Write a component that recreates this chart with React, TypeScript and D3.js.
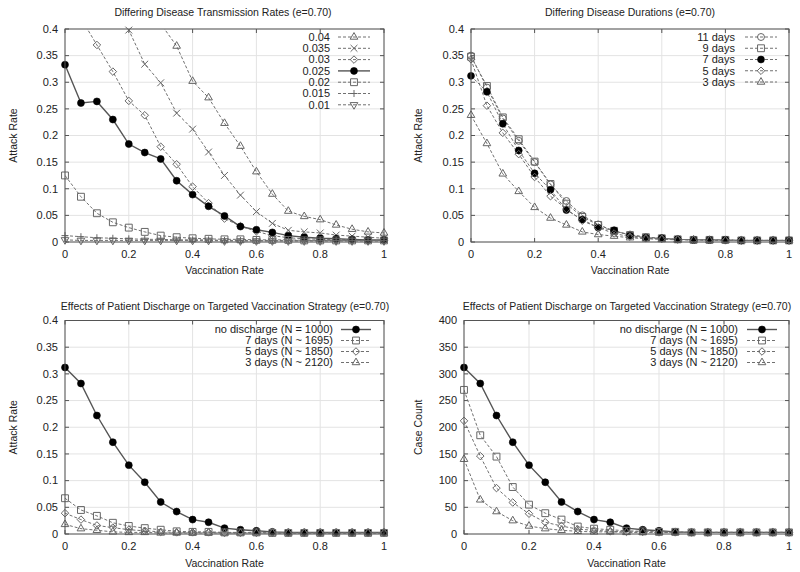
import React from "react";
import * as d3 from "d3";

const vaccinationRates = [0, 0.05, 0.1, 0.15, 0.2, 0.25, 0.3, 0.35, 0.4, 0.45, 0.5, 0.55, 0.6, 0.65, 0.7, 0.75, 0.8, 0.85, 0.9, 0.95, 1];
const xTicks = [0, 0.2, 0.4, 0.6, 0.8, 1];
const rateTicks = [0, 0.05, 0.1, 0.15, 0.2, 0.25, 0.3, 0.35, 0.4];
const countTicks = [0, 50, 100, 150, 200, 250, 300, 350, 400];

// Panel 1: transmission rates
const trans004 = [0.72, 0.68, 0.63, 0.58, 0.53, 0.47, 0.41, 0.368, 0.302, 0.271, 0.223, 0.18, 0.132, 0.09, 0.058, 0.048, 0.042, 0.032, 0.024, 0.019, 0.017];
const trans0035 = [0.64, 0.6, 0.56, 0.51, 0.398, 0.334, 0.299, 0.242, 0.212, 0.169, 0.125, 0.088, 0.057, 0.035, 0.022, 0.019, 0.017, 0.013, 0.011, 0.009, 0.007];
const trans003 = [0.5, 0.42, 0.37, 0.32, 0.265, 0.238, 0.179, 0.146, 0.104, 0.073, 0.044, 0.03, 0.02, 0.012, 0.008, 0.006, 0.005, 0.004, 0.004, 0.003, 0.003];
const trans0025 = [0.333, 0.261, 0.264, 0.23, 0.184, 0.168, 0.156, 0.115, 0.089, 0.067, 0.049, 0.029, 0.023, 0.018, 0.012, 0.009, 0.007, 0.006, 0.005, 0.004, 0.004];
const trans002 = [0.125, 0.085, 0.054, 0.037, 0.027, 0.019, 0.012, 0.009, 0.007, 0.006, 0.005, 0.005, 0.004, 0.004, 0.004, 0.003, 0.003, 0.003, 0.003, 0.003, 0.003];
const trans0015 = [0.012, 0.01, 0.008, 0.007, 0.006, 0.005, 0.005, 0.004, 0.004, 0.004, 0.003, 0.003, 0.003, 0.003, 0.003, 0.003, 0.003, 0.003, 0.003, 0.003, 0.003];
const trans001 = [0.004, 0.003, 0.003, 0.003, 0.003, 0.003, 0.003, 0.003, 0.003, 0.003, 0.002, 0.002, 0.002, 0.002, 0.002, 0.002, 0.002, 0.002, 0.002, 0.002, 0.002];

// Panel 2: durations
const dur11 = [0.35, 0.29, 0.232, 0.19, 0.15, 0.108, 0.077, 0.05, 0.033, 0.02, 0.014, 0.009, 0.007, 0.005, 0.004, 0.004, 0.004, 0.003, 0.003, 0.003, 0.003];
const dur9 = [0.348, 0.293, 0.234, 0.193, 0.151, 0.109, 0.072, 0.047, 0.032, 0.021, 0.013, 0.009, 0.007, 0.005, 0.004, 0.004, 0.004, 0.003, 0.003, 0.003, 0.003];
const dur7 = [0.312, 0.282, 0.222, 0.172, 0.129, 0.098, 0.06, 0.042, 0.027, 0.022, 0.012, 0.008, 0.007, 0.005, 0.004, 0.004, 0.004, 0.003, 0.003, 0.003, 0.003];
const dur5 = [0.343, 0.256, 0.205, 0.165, 0.122, 0.086, 0.062, 0.04, 0.027, 0.016, 0.01, 0.007, 0.006, 0.005, 0.004, 0.004, 0.003, 0.003, 0.003, 0.003, 0.003];
const dur3 = [0.238, 0.185, 0.128, 0.095, 0.065, 0.045, 0.032, 0.019, 0.014, 0.011, 0.008, 0.006, 0.005, 0.004, 0.004, 0.003, 0.003, 0.003, 0.003, 0.003, 0.003];

// Panel 3: discharge attack rates
const noDischargeRate = [0.312, 0.282, 0.222, 0.172, 0.129, 0.097, 0.06, 0.042, 0.027, 0.022, 0.011, 0.008, 0.006, 0.004, 0.003, 0.003, 0.003, 0.003, 0.003, 0.003, 0.003];
const discharge7Rate = [0.067, 0.045, 0.034, 0.021, 0.015, 0.011, 0.008, 0.005, 0.004, 0.004, 0.003, 0.003, 0.003, 0.002, 0.002, 0.002, 0.002, 0.002, 0.002, 0.002, 0.002];
const discharge5Rate = [0.039, 0.027, 0.016, 0.012, 0.008, 0.006, 0.004, 0.003, 0.003, 0.003, 0.002, 0.002, 0.002, 0.002, 0.002, 0.002, 0.002, 0.002, 0.002, 0.002, 0.002];
const discharge3Rate = [0.018, 0.01, 0.007, 0.004, 0.003, 0.003, 0.002, 0.002, 0.002, 0.002, 0.002, 0.002, 0.002, 0.002, 0.002, 0.002, 0.002, 0.002, 0.002, 0.002, 0.002];

// Panel 4: discharge case counts
const noDischargeCount = [312, 282, 222, 172, 129, 97, 60, 42, 27, 22, 11, 8, 6, 4, 3, 3, 3, 3, 3, 3, 3];
const discharge7Count = [270, 185, 145, 88, 55, 39, 27, 14, 10, 8, 6, 5, 4, 4, 3, 3, 3, 3, 3, 3, 3];
const discharge5Count = [212, 146, 86, 59, 38, 22, 15, 9, 7, 5, 4, 4, 3, 3, 3, 3, 3, 3, 3, 3, 3];
const discharge3Count = [140, 64, 42, 25, 15, 10, 7, 5, 4, 4, 3, 3, 3, 3, 3, 3, 3, 3, 3, 3, 3];

const transLabels = ["0.04", "0.035", "0.03", "0.025", "0.02", "0.015", "0.01"];
const durLabels = ["11 days", "9 days", "7 days", "5 days", "3 days"];
const dischargeLabels = ["no discharge (N = 1000)", "7 days (N ~ 1695)", "5 days (N ~ 1850)", "3 days (N ~ 2120)"];

type Marker = "triangle" | "times" | "diamond" | "dot" | "square" | "plus" | "invtriangle" | "circle";
type Series = { label: string; values: number[]; marker: Marker; solid?: boolean };

const FONT = "'Liberation Sans', Arial, sans-serif";
const TEXT = "#222";

function markerPath(m: Marker): string {
  const s = d3.symbol();
  switch (m) {
    case "triangle":
    case "invtriangle":
      return s.type(d3.symbolTriangle2).size(42)()!;
    case "times":
      return s.type(d3.symbolTimes).size(32)()!;
    case "diamond":
      return s.type(d3.symbolDiamond2).size(36)()!;
    case "square":
      return s.type(d3.symbolSquare2).size(60)()!;
    case "plus":
      return s.type(d3.symbolPlus).size(18)()!;
    case "circle":
    case "dot":
      return s.type(d3.symbolCircle).size(38)()!;
  }
}

function MarkerShape({ m, x, y }: { m: Marker; x: number; y: number }) {
  const d = markerPath(m);
  const rot = m === "invtriangle" ? " rotate(180)" : "";
  if (m === "dot") {
    return <path d={d} transform={`translate(${x},${y})`} fill="#000" stroke="#000" strokeWidth={0.6} />;
  }
  return (
    <path d={d} transform={`translate(${x},${y})${rot}`} fill="none" stroke="#666" strokeWidth={1} />
  );
}

type PanelProps = {
  id: string;
  left: number; right: number; top: number; bottom: number;
  title: string; titleX: number; titleY: number;
  ylabel: string; ylabelX: number;
  xlabelY: number; xtickY: number;
  yDomain: [number, number]; yTicks: number[];
  series: Series[];
  legendRight: number; legendLine: [number, number]; legendY: number; legendStep: number;
};

function Panel(p: PanelProps) {
  const x = d3.scaleLinear().domain([0, 1]).range([p.left, p.right]);
  const y = d3.scaleLinear().domain(p.yDomain).range([p.bottom, p.top]);
  const fmt = d3.format("~g");
  const line = d3.line<number>().x((_, i) => x(vaccinationRates[i])).y((v) => y(v));
  const tl = 4;
  const [ymin, ymax] = p.yDomain;
  return (
    <g>
      <defs>
        <clipPath id={`clip-${p.id}`}>
          <rect x={p.left} y={p.top} width={p.right - p.left} height={p.bottom - p.top} />
        </clipPath>
      </defs>
      {xTicks.map((t) => (
        <line key={`gx${t}`} x1={x(t)} x2={x(t)} y1={p.top} y2={p.bottom} stroke="#e3e3e3" strokeWidth={1} />
      ))}
      {p.yTicks.map((t) => (
        <line key={`gy${t}`} x1={p.left} x2={p.right} y1={y(t)} y2={y(t)} stroke="#e3e3e3" strokeWidth={1} />
      ))}
      {xTicks.map((t) => (
        <g key={`tx${t}`}>
          <line x1={x(t)} x2={x(t)} y1={p.bottom} y2={p.bottom - tl} stroke="#555" />
          <line x1={x(t)} x2={x(t)} y1={p.top} y2={p.top + tl} stroke="#555" />
          <text x={x(t)} y={p.xtickY} textAnchor="middle" fontSize={11} fontFamily={FONT} fill={TEXT}>{fmt(t)}</text>
        </g>
      ))}
      {p.yTicks.map((t) => (
        <g key={`ty${t}`}>
          <line x1={p.left} x2={p.left + tl} y1={y(t)} y2={y(t)} stroke="#555" />
          <line x1={p.right} x2={p.right - tl} y1={y(t)} y2={y(t)} stroke="#555" />
          <text x={p.left - 7} y={y(t)} dy="0.35em" textAnchor="end" fontSize={11} fontFamily={FONT} fill={TEXT}>{fmt(t)}</text>
        </g>
      ))}
      <g clipPath={`url(#clip-${p.id})`}>
        {p.series.map((s) => (
          <path
            key={s.label}
            d={line(s.values)!}
            fill="none"
            stroke={s.solid ? "#555" : "#707070"}
            strokeWidth={s.solid ? 1.4 : 1}
            strokeDasharray={s.solid ? undefined : "3,2"}
          />
        ))}
      </g>
      {p.series.map((s) => (
        <g key={`m${s.label}`}>
          {s.values.map((v, i) =>
            v <= ymax && v >= ymin ? (
              <MarkerShape key={i} m={s.marker} x={x(vaccinationRates[i])} y={y(v)} />
            ) : null
          )}
        </g>
      ))}
      <rect x={p.left} y={p.top} width={p.right - p.left} height={p.bottom - p.top} fill="none" stroke="#555" strokeWidth={1} />
      {p.series.map((s, i) => {
        const ly = p.legendY + i * p.legendStep;
        const [l1, l2] = p.legendLine;
        return (
          <g key={`lg${s.label}`}>
            <text x={p.legendRight} y={ly} dy="0.35em" textAnchor="end" fontSize={11} fontFamily={FONT} fill={TEXT}>{s.label}</text>
            <line x1={l1} x2={l2} y1={ly} y2={ly} stroke={s.solid ? "#555" : "#707070"} strokeWidth={s.solid ? 1.4 : 1} strokeDasharray={s.solid ? undefined : "3,2"} />
            <MarkerShape m={s.marker} x={(l1 + l2) / 2} y={ly} />
          </g>
        );
      })}
      <text x={p.titleX} y={p.titleY} textAnchor="middle" fontSize={10.5} fontFamily={FONT} fill={TEXT}>{p.title}</text>
      <text x={(p.left + p.right) / 2} y={p.xlabelY} textAnchor="middle" fontSize={10.5} fontFamily={FONT} fill={TEXT}>Vaccination Rate</text>
      <text transform={`translate(${p.ylabelX},${(p.top + p.bottom) / 2}) rotate(-90)`} dy="0.35em" textAnchor="middle" fontSize={10.5} fontFamily={FONT} fill={TEXT}>{p.ylabel}</text>
    </g>
  );
}

const transSeries: Series[] = [
  { label: transLabels[0], values: trans004, marker: "triangle" },
  { label: transLabels[1], values: trans0035, marker: "times" },
  { label: transLabels[2], values: trans003, marker: "diamond" },
  { label: transLabels[3], values: trans0025, marker: "dot", solid: true },
  { label: transLabels[4], values: trans002, marker: "square" },
  { label: transLabels[5], values: trans0015, marker: "plus" },
  { label: transLabels[6], values: trans001, marker: "invtriangle" },
];

const durSeries: Series[] = [
  { label: durLabels[0], values: dur11, marker: "circle" },
  { label: durLabels[1], values: dur9, marker: "square" },
  { label: durLabels[2], values: dur7, marker: "dot" },
  { label: durLabels[3], values: dur5, marker: "diamond" },
  { label: durLabels[4], values: dur3, marker: "triangle" },
];

const rateSeries: Series[] = [
  { label: dischargeLabels[0], values: noDischargeRate, marker: "dot", solid: true },
  { label: dischargeLabels[1], values: discharge7Rate, marker: "square" },
  { label: dischargeLabels[2], values: discharge5Rate, marker: "diamond" },
  { label: dischargeLabels[3], values: discharge3Rate, marker: "triangle" },
];

const countSeries: Series[] = [
  { label: dischargeLabels[0], values: noDischargeCount, marker: "dot", solid: true },
  { label: dischargeLabels[1], values: discharge7Count, marker: "square" },
  { label: dischargeLabels[2], values: discharge5Count, marker: "diamond" },
  { label: dischargeLabels[3], values: discharge3Count, marker: "triangle" },
];

export default function App() {
  return (
    <svg width={800} height={572} style={{ position: "absolute", left: 0, top: 0, background: "#fff" }}>
      <rect width={800} height={572} fill="#fff" />
      <Panel id="p1" left={65} right={384} top={29} bottom={242}
        title="Differing Disease Transmission Rates (e=0.70)" titleX={223} titleY={16}
        ylabel="Attack Rate" ylabelX={13} xlabelY={274} xtickY={258}
        yDomain={[0, 0.4]} yTicks={rateTicks} series={transSeries}
        legendRight={330} legendLine={[338, 370]} legendY={37} legendStep={11.3} />
      <Panel id="p2" left={471} right={789} top={29} bottom={242}
        title="Differing Disease Durations (e=0.70)" titleX={630} titleY={16}
        ylabel="Attack Rate" ylabelX={418} xlabelY={274} xtickY={258}
        yDomain={[0, 0.4]} yTicks={rateTicks} series={durSeries}
        legendRight={735} legendLine={[745, 777]} legendY={37} legendStep={11.25} />
      <Panel id="p3" left={65} right={384} top={320.5} bottom={534}
        title="Effects of Patient Discharge on Targeted Vaccination Strategy (e=0.70)" titleX={225} titleY={310}
        ylabel="Attack Rate" ylabelX={13} xlabelY={567} xtickY={550}
        yDomain={[0, 0.4]} yTicks={rateTicks} series={rateSeries}
        legendRight={333} legendLine={[341, 371]} legendY={329.5} legendStep={11} />
      <Panel id="p4" left={464} right={789} top={320.5} bottom={534}
        title="Effects of Patient Discharge on Targeted Vaccination Strategy (e=0.70)" titleX={627} titleY={310}
        ylabel="Case Count" ylabelX={418} xlabelY={567} xtickY={550}
        yDomain={[0, 400]} yTicks={countTicks} series={countSeries}
        legendRight={738} legendLine={[747, 777]} legendY={329.5} legendStep={11} />
    </svg>
  );
}
